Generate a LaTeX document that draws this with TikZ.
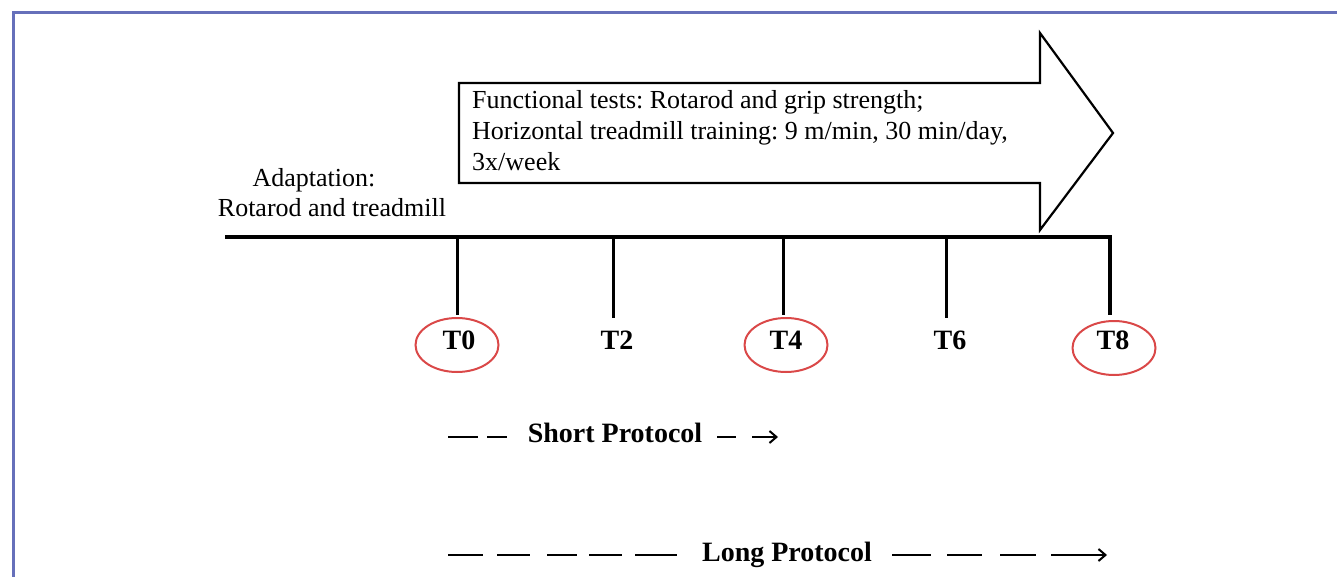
\documentclass[tikz,border=0pt]{standalone}
\usepackage{fontspec}
\setmainfont{Liberation Serif}
\usetikzlibrary{arrows.meta,shapes.geometric}
\definecolor{framecol}{RGB}{102,112,186}
\definecolor{ringcol}{RGB}{218,72,72}
\frenchspacing
\begin{document}
\begin{tikzpicture}[x=1pt,y=-1pt,
  bodytext/.style={font=\fontsize{26}{31}\selectfont, inner sep=0pt},
  tlabel/.style={font=\fontsize{28}{34}\selectfont\bfseries, inner sep=0pt, anchor=base},
  ring/.style={draw=ringcol, line width=2pt, ellipse, minimum width=83pt, minimum height=54pt, inner sep=0pt},
  tickline/.style={line width=3pt},
  dashseg/.style={line width=2.3pt},
  protoarrow/.style={line width=2pt, -{Straight Barb[length=7pt,width=12pt]}},
]
\useasboundingbox (0,0) rectangle (1337,577);
% frame
\draw[framecol, line width=3pt] (13,577) -- (13,13) -- (1337,13);
% big arrow
\draw[line width=2.2pt, line join=miter] (459,83) -- (1040,83) -- (1040,33) -- (1113,133) -- (1040,230) -- (1040,183) -- (459,183) -- cycle;
\node[bodytext, anchor=north west, align=left] (info) at (472,90)
  {Functional tests: Rotarod and grip strength;\\
   Horizontal treadmill training: 9 m/min, 30 min/day,\\
   3x/week};
% adaptation
\node[bodytext, anchor=base] (adapt1) at (314,187) {Adaptation:};
\node[bodytext, anchor=base] (adapt2) at (332,217) {Rotarod and treadmill};
% timeline
\coordinate (tlstart) at (225,237);
\coordinate (tk8) at (1110,237);
\coordinate (tk8e) at (1110,315);
\draw[line width=4pt, line join=miter] (tlstart) -- (tk8) -- (tk8e);
\foreach \x/\n/\e in {457/0/315, 613/2/318, 783/4/315, 946/6/318}{
  \coordinate (tk\n) at (\x,237);
  \coordinate (tk\n e) at (\x,\e);
  \draw[tickline] (tk\n) -- (tk\n e);
}
% labels
\node[tlabel] (t0) at (459,349) {T0};
\node[tlabel] (t2) at (617,349) {T2};
\node[tlabel] (t4) at (786,349) {T4};
\node[tlabel] (t6) at (950,349) {T6};
\node[tlabel] (t8) at (1113,349) {T8};
\node[ring] (r0) at (457,345) {};
\node[ring] (r4) at (786,345) {};
\node[ring] (r8) at (1114,348) {};
% short protocol
\node[tlabel] (short) at (615,442) {Short Protocol};
\foreach \a/\b in {448/478, 487/507, 717/736}{
  \draw[dashseg] (\a,437) -- (\b,437);
}
\coordinate (sa) at (752,437);
\coordinate (sb) at (778,437);
\draw[protoarrow] (sa) -- (sb);
% long protocol
\node[tlabel] (long) at (787,561) {Long Protocol};
\foreach \a/\b in {448/483, 497/530, 547/577, 589/622, 635/677, 892/931, 947/982, 1000/1036}{
  \draw[dashseg] (\a,555) -- (\b,555);
}
\coordinate (la) at (1051,555);
\coordinate (lb) at (1107,555);
\draw[protoarrow] (la) -- (lb);
\end{tikzpicture}
\end{document}
